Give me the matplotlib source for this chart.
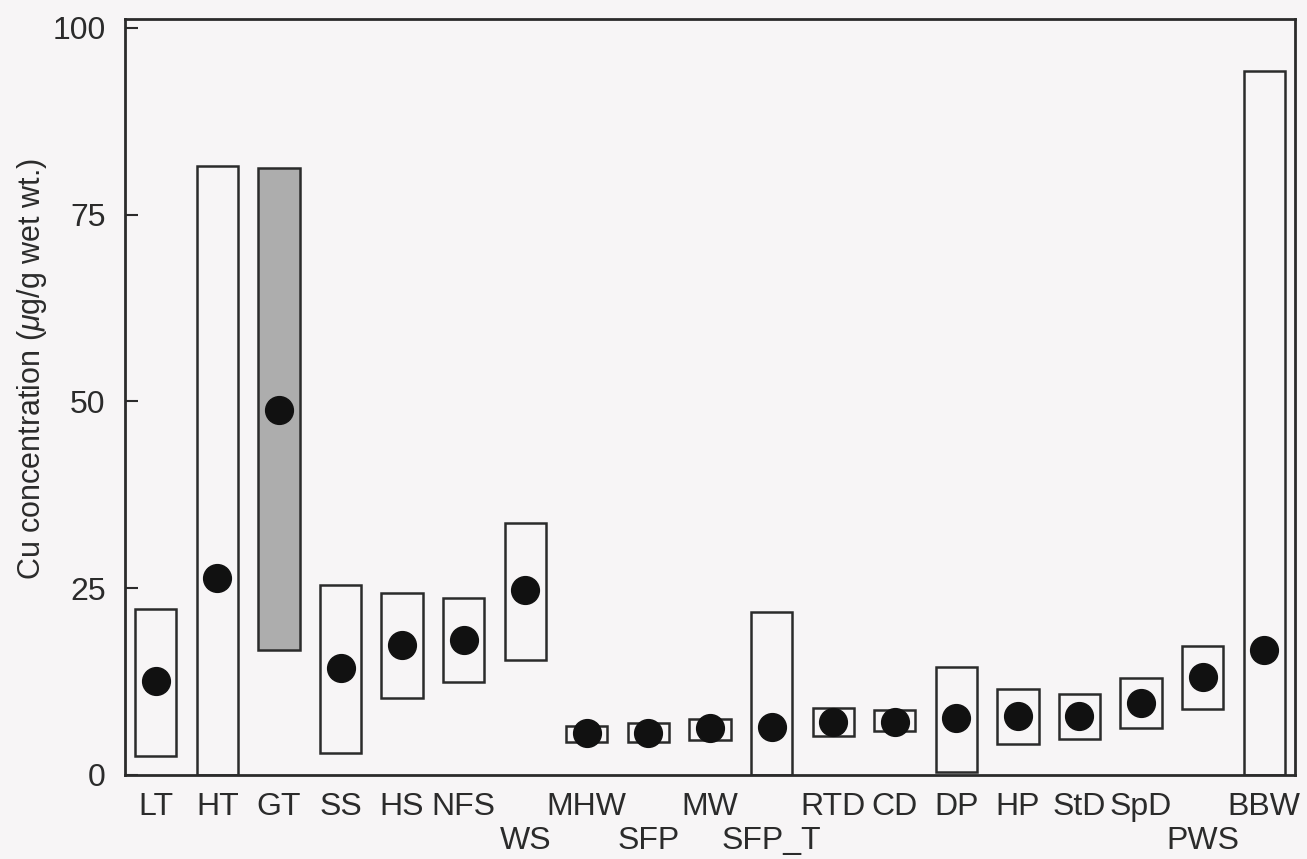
import matplotlib
matplotlib.use("Agg")
import matplotlib.pyplot as plt
from matplotlib.patches import Rectangle

# Cu concentration (ug/g wet wt.) per tissue / species
categories = ["LT", "HT", "GT", "SS", "HS", "NFS", "WS", "MHW", "SFP", "MW",
              "SFP_T", "RTD", "CD", "DP", "HP", "StD", "SpD", "PWS", "BBW"]
range_low = [2.5, 0.0, 16.7, 2.9, 10.3, 12.4, 15.4, 4.4, 4.4, 4.7,
             0.0, 5.2, 5.9, 0.4, 4.1, 4.8, 6.3, 8.8, 0.0]
range_high = [22.2, 81.5, 81.3, 25.4, 24.4, 23.7, 33.7, 6.6, 7.0, 7.5,
              21.8, 9.0, 8.7, 14.5, 11.5, 10.8, 13.0, 17.3, 94.2]
means = [12.6, 26.4, 48.9, 14.3, 17.4, 18.1, 24.8, 5.6, 5.6, 6.3,
         6.4, 7.1, 7.1, 7.6, 7.9, 7.9, 9.6, 13.1, 16.7]
shaded = ["GT"]
lowered = ["WS", "SFP", "SFP_T", "PWS"]

bg = "#f7f5f6"
ink = "#2b2b2b"

plt.rcParams["font.family"] = ["Liberation Sans", "DejaVu Sans"]
plt.rcParams["mathtext.fontset"] = "custom"
plt.rcParams["mathtext.it"] = "Liberation Sans:italic"

fig = plt.figure(figsize=(13.07, 8.59), dpi=100, facecolor=bg)
ax = fig.add_axes([125 / 1307, 84 / 859, 1170 / 1307, 756 / 859])
ax.set_facecolor(bg)

width = 0.67
for i, cat in enumerate(categories):
    fc = "#adadad" if cat in shaded else "none"
    ax.add_patch(Rectangle((i - width / 2, range_low[i]), width,
                           range_high[i] - range_low[i],
                           facecolor=fc, edgecolor=ink, linewidth=1.8,
                           zorder=2))
ax.plot(range(len(categories)), means, "o", color="#111111",
        markersize=20, zorder=3)

ax.set_xlim(-0.5, 18.5)
ax.set_ylim(0, 101.2)
ax.set_yticks([0, 25, 50, 75, 100])
ax.set_yticklabels(["0", "25", "50", "75", "100"])
ax.tick_params(axis="y", direction="in", length=9, width=1.5, pad=14,
               labelsize=23, colors=ink)
ax.set_xticks([])

# category names in two staggered rows under the axis
trans = ax.get_xaxis_transform()
for i, cat in enumerate(categories):
    y = -0.0873 if cat in lowered else -0.0424
    ax.text(i, y, cat, transform=trans, ha="center", va="center",
            fontsize=23, color=ink)

for s in ax.spines.values():
    s.set_linewidth(2.0)
    s.set_color(ink)

fig.text(32 / 1307, 1 - 369 / 859,
         "Cu concentration ($\\mu$g/g wet wt.)",
         rotation=90, ha="center", va="center", fontsize=22, color=ink)

fig.savefig("out.png", dpi=100, facecolor=bg)
